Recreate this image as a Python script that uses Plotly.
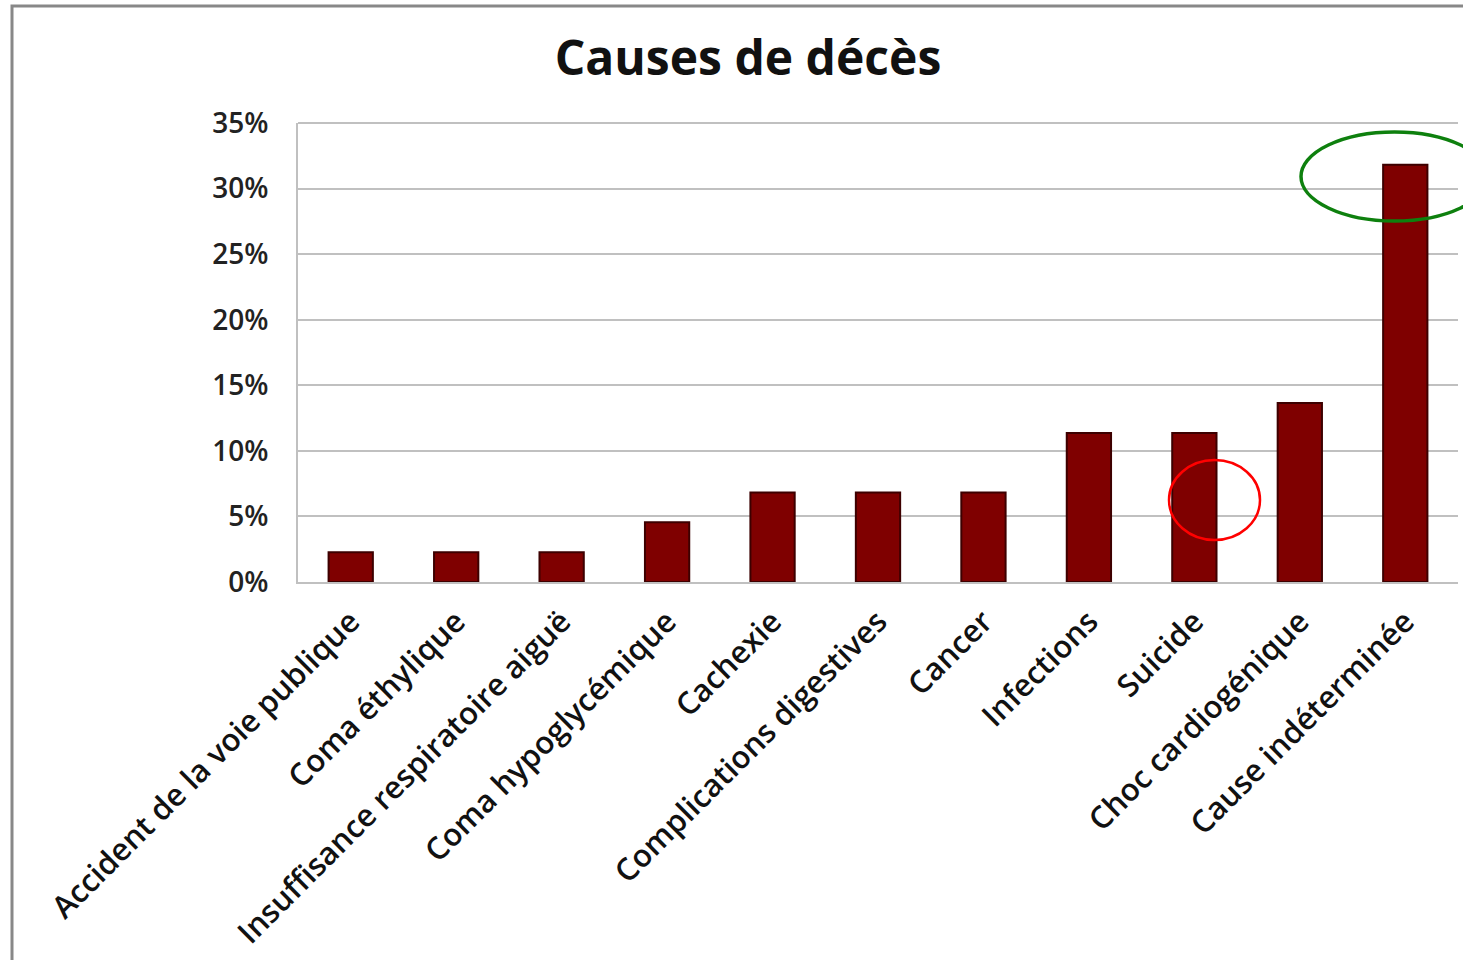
import plotly.graph_objects as go

categories = [
    "Accident de la voie publique",
    "Coma éthylique",
    "Insuffisance respiratoire aiguë",
    "Coma hypoglycémique",
    "Cachexie",
    "Complications digestives",
    "Cancer",
    "Infections",
    "Suicide",
    "Choc cardiogénique",
    "Cause indéterminée",
]
values = [0.0227, 0.0227, 0.0227, 0.0455, 0.0682, 0.0682, 0.0682, 0.1136, 0.1136, 0.1364, 0.3182]
y_ticks = [0, 0.05, 0.10, 0.15, 0.20, 0.25, 0.30, 0.35]
y_tick_labels = ["0%", "5%", "10%", "15%", "20%", "25%", "30%", "35%"]

W, H = 1463, 960
L, R, T, B = 298, 1458, 123, 582  # plot area in px

def px_x(p):
    return (p - L) / (R - L)

def px_y(p):
    return (B - p) / (B - T)

fig = go.Figure()
fig.add_trace(go.Bar(
    x=categories,
    y=values,
    marker=dict(color="#7f0000", line=dict(color="#3d0000", width=2)),
    width=0.42,
))

shapes = [
    # outer chart border (cropped at right/bottom)
    dict(type="rect", xref="paper", yref="paper",
         x0=px_x(12), x1=px_x(1600), y0=px_y(6), y1=px_y(1100),
         line=dict(color="#888888", width=3), layer="below"),
    # top gridline at 35%
    dict(type="line", xref="paper", yref="paper", x0=0, x1=1, y0=1, y1=1,
         line=dict(color="#c0c0c0", width=2), layer="below"),
    # green ellipse
    dict(type="circle", xref="paper", yref="paper",
         x0=px_x(1301), x1=px_x(1488), y0=px_y(221), y1=px_y(132),
         line=dict(color="#0e800e", width=3.5)),
    # red circle
    dict(type="circle", xref="paper", yref="paper",
         x0=px_x(1169), x1=px_x(1260), y0=px_y(540), y1=px_y(460),
         line=dict(color="#ff0000", width=2.5)),
]

fig.update_layout(
    width=W, height=H,
    margin=dict(l=L, r=W - R, t=T, b=H - B, autoexpand=False),
    paper_bgcolor="white", plot_bgcolor="white",
    showlegend=False,
    title=dict(text="Causes de décès", x=748 / W, xref="container", xanchor="center",
               y=1 - 58 / H, yref="container", yanchor="middle",
               font=dict(family="Open Sans", size=48, color="#111111", weight=700)),
    font=dict(family="Open Sans", color="#111111"),
    shapes=shapes,
    bargap=0.58,
)
fig.update_xaxes(
    tickangle=-45, tickfont=dict(size=31, family="Open Sans", color="#111111", weight=600),
    showline=True, linecolor="#c0c0c0", linewidth=2, showgrid=False, ticks="",
    ticklabelstandoff=7, automargin=False,
)
fig.update_yaxes(
    range=[0, 0.35], tickvals=y_ticks, ticktext=y_tick_labels,
    tickfont=dict(size=28, family="Open Sans", color="#222222", weight=600),
    showgrid=True, gridcolor="#c0c0c0", gridwidth=2,
    showline=True, linecolor="#c0c0c0", linewidth=2, zeroline=False,
    ticks="", ticklabelstandoff=22, automargin=False,
)

fig.write_html("out.html")
